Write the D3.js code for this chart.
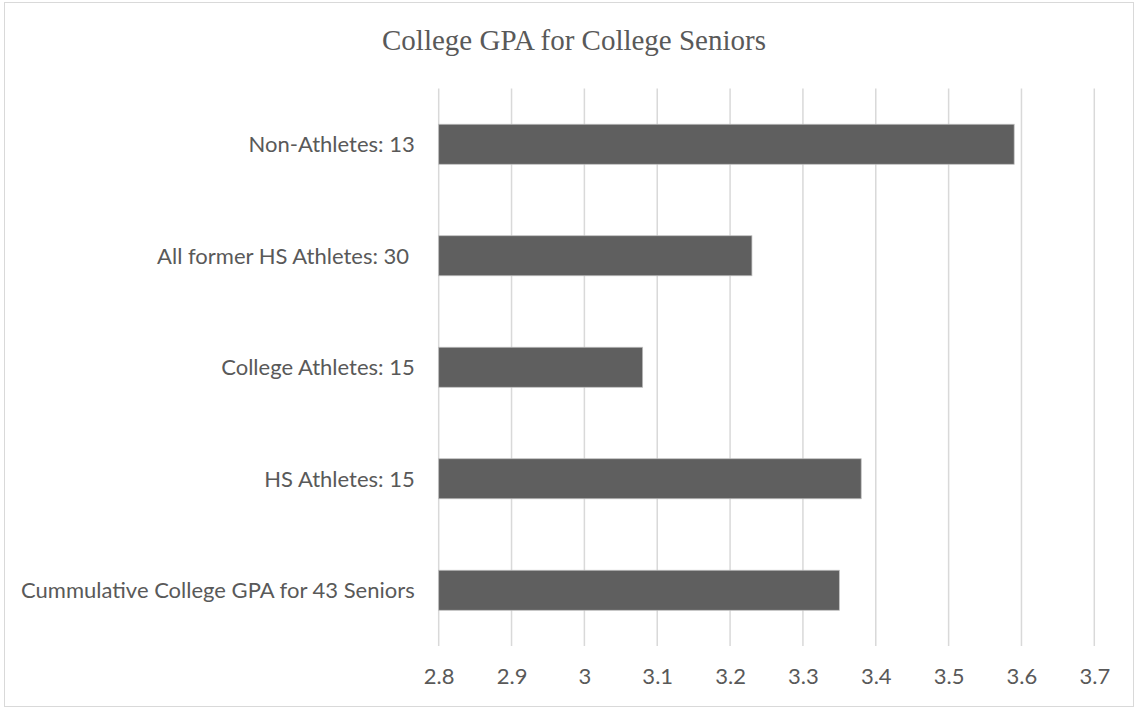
<!DOCTYPE html>
<html>
<head>
<meta charset="utf-8">
<script src="https://cdn.jsdelivr.net/npm/d3@7/dist/d3.min.js"></script>
<style>
  html, body { margin: 0; padding: 0; background: #fff; }
  svg { display: block; }
</style>
</head>
<body>
<svg id="chart" width="1136" height="708"></svg>
<script>
// Groups, top to bottom, and their mean cumulative GPA
const categories = [
  "Non-Athletes: 13",
  "All former HS Athletes: 30 ",
  "College Athletes: 15",
  "HS Athletes: 15",
  "Cummulative College GPA for 43 Seniors"
];
const gpaValues = [3.59, 3.23, 3.08, 3.38, 3.35];
const tickValues = [2.8, 2.9, 3.0, 3.1, 3.2, 3.3, 3.4, 3.5, 3.6, 3.7];
const titleText = "College GPA for College Seniors";

const W = 1136, H = 708;
const plot = { left: 438.7, right: 1094.3, top: 88.5, bottom: 646 };
const textColor = "#595959";
const labelFont = "Lato, 'Open Sans', sans-serif";

const svg = d3.select("#chart");

// chart frame
svg.append("rect")
  .attr("x", 4.5).attr("y", 2.5)
  .attr("width", 1129).attr("height", 704)
  .attr("fill", "#fff")
  .attr("stroke", "#d9d9d9")
  .attr("stroke-width", 1);

const x = d3.scaleLinear()
  .domain([tickValues[0], tickValues[tickValues.length - 1]])
  .range([plot.left, plot.right]);

const y = d3.scaleBand()
  .domain(categories)
  .range([plot.top, plot.bottom])
  .paddingInner(0.641)
  .paddingOuter(0.3205);

// vertical gridlines
svg.append("g")
  .selectAll("line")
  .data(tickValues)
  .join("line")
  .attr("x1", d => x(d)).attr("x2", d => x(d))
  .attr("y1", plot.top).attr("y2", plot.bottom)
  .attr("stroke", "#d9d9d9")
  .attr("stroke-width", 1.5);

// bars
svg.append("g")
  .selectAll("rect")
  .data(categories.map((c, i) => ({ c, v: gpaValues[i] })))
  .join("rect")
  .attr("x", x(tickValues[0]))
  .attr("y", d => y(d.c))
  .attr("width", d => x(d.v) - x(tickValues[0]))
  .attr("height", y.bandwidth())
  .attr("fill", "#5f5f5f")
  .attr("stroke", "#bfbfbf")
  .attr("stroke-width", 0.75);

// x axis tick labels
const xAxis = d3.axisBottom(x)
  .tickValues(tickValues)
  .tickSize(0)
  .tickPadding(0)
  .tickFormat(d3.format("~g"));

const gx = svg.append("g")
  .attr("transform", `translate(0,${plot.bottom})`)
  .call(xAxis);
gx.select(".domain").remove();
gx.selectAll("text")
  .attr("y", 38)
  .attr("dy", 0)
  .attr("fill", textColor)
  .style("font-family", labelFont)
  .style("font-size", "22px");

// category labels
const yAxis = d3.axisLeft(y).tickSize(0).tickPadding(24);
const gy = svg.append("g")
  .attr("transform", `translate(${plot.left},0)`)
  .call(yAxis);
gy.select(".domain").remove();
gy.selectAll("text")
  .attr("dy", "0.36em")
  .attr("fill", textColor)
  .style("font-family", labelFont)
  .style("font-size", "22px")
  .style("white-space", "pre");

// title
svg.append("text")
  .attr("x", 574)
  .attr("y", 50)
  .attr("text-anchor", "middle")
  .attr("fill", textColor)
  .style("font-family", "'Liberation Serif', 'Times New Roman', serif")
  .style("font-size", "29px")
  .text(titleText);
</script>
</body>
</html>
